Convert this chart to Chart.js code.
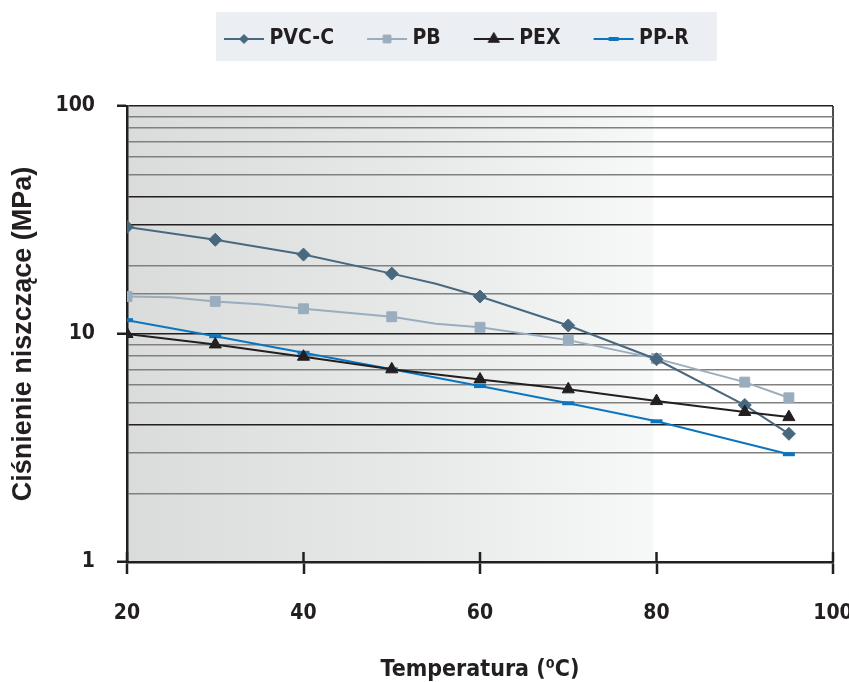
<!DOCTYPE html>
<html>
<head>
<meta charset="utf-8">
<script src="https://cdn.jsdelivr.net/npm/chart.js@4.4.1/dist/chart.umd.min.js"></script>
<style>
  html, body { margin: 0; padding: 0; background: #fff; }
  #wykres { display: block; }
</style>
</head>
<body>
<canvas id="wykres" width="849" height="682"></canvas>
<script>
// dane (cisnienie niszczace w MPa)
const serie = ['PVC-C', 'PB', 'PEX', 'PP-R'];

const tempPVC = [20, 30, 40, 50, 55, 60, 70, 80, 90, 95];
const cisnPVC = [29.5, 25.9, 22.3, 18.4, 16.6, 14.6, 10.9, 7.75, 4.88, 3.65];

const tempPB = [20, 25, 30, 35, 40, 50, 55, 60, 70, 80, 90, 95];
const cisnPB = [14.6, 14.5, 13.9, 13.5, 12.9, 11.9, 11.1, 10.7, 9.4, 7.8, 6.15, 5.25];

const tempPEX = [20, 30, 40, 50, 60, 70, 80, 90, 95];
const cisnPEX = [10.0, 9.0, 7.95, 7.0, 6.32, 5.72, 5.08, 4.55, 4.32];

const tempPPR = [20, 30, 40, 50, 60, 70, 80, 95];
const cisnPPR = [11.5, 9.78, 8.27, 7.0, 5.91, 4.97, 4.14, 2.97];

// temperatury, przy ktorych rysowane sa znaczniki
const znaczniki = [20, 30, 40, 50, 60, 70, 80, 90, 95];
const etykietyX = [20, 40, 60, 80, 100];
const etykietyY = [1, 10, 100];
const ciemneLinie = [100, 40, 30, 10, 4];

const kolory = ['#48687f', '#9aadbe', '#231f20', '#0b76bf'];
const ksztalty = ['rectRot', 'rect', 'triangle', 'line'];
const promienie = [6.5, 7, 7, 6];
const kolejnosc = [2, 3, 0, 1];

const waski = "'Liberation Sans Narrow', 'DejaVu Sans Condensed', sans-serif";
const czarny = '#231f20';

// legenda: rozmiar czcionki i odstep, gora obszaru wykresu na 106 px
const fontLegendy = 21;
const odstepLegendy = 24;
const gornyMargines = 106 - (fontLegendy + odstepLegendy + 10);

function punkty(t, v) {
    return t.map((x, i) => ({ x: x, y: v[i] }));
}

function seria(i, t, v) {
    return {
        label: serie[i],
        data: punkty(t, v),
        borderColor: kolory[i],
        backgroundColor: kolory[i],
        borderWidth: 2,
        pointStyle: ksztalty[i],
        pointRadius: t.map(x => znaczniki.includes(x) ? promienie[i] : 0),
        pointBorderWidth: i === 3 ? 4 : 1,
        pointBorderColor: kolory[i],
        pointBackgroundColor: kolory[i],
        tension: 0,
        order: kolejnosc[i]
    };
}

// probka do legendy: linia ze znacznikiem
function probka(i) {
    const c = document.createElement('canvas');
    c.width = 80;
    c.height = 24;
    const g = c.getContext('2d');
    g.strokeStyle = kolory[i];
    g.fillStyle = kolory[i];
    g.lineWidth = 2;
    g.beginPath();
    g.moveTo(27, 12);
    g.lineTo(67, 12);
    g.stroke();
    g.lineWidth = i === 3 ? 4 : 1;
    Chart.helpers.drawPoint(g, { pointStyle: ksztalty[i], radius: [4.5, 5.5, 6.5, 5][i], borderWidth: g.lineWidth }, 47, 12);
    return c;
}
const probki = serie.map((s, i) => probka(i));

const dodatki = {
    id: 'dodatki',
    afterLayout(chart) {
        // legenda wyzej i w prawo
        const lg = chart.legend;
        const dy = gornyMargines - 4.5;
        lg.top -= dy; lg.bottom -= dy;
        lg.left += 191; lg.right += 191;
    },
    beforeDraw(chart) {
        const { ctx, chartArea: a, legend } = chart;
        ctx.save();
        const gr = ctx.createLinearGradient(a.left, 0, a.right, 0);
        gr.addColorStop(0, '#d9dcdb');
        gr.addColorStop(0.4, '#e7e9e9');
        gr.addColorStop(0.745, '#f7f8f8');
        gr.addColorStop(0.747, '#ffffff');
        gr.addColorStop(1, '#ffffff');
        ctx.fillStyle = gr;
        ctx.fillRect(a.left, a.top, a.right - a.left, a.bottom - a.top);

        const hb = legend.legendHitBoxes;
        const p = hb[0], k = hb[hb.length - 1];
        ctx.fillStyle = '#ebeef3';
        ctx.fillRect(p.left + 1, p.top + p.height / 2 - 27, k.left + k.width + 28 - p.left - 1, 49);
        ctx.restore();
    },
    afterDraw(chart) {
        // kreski podzialki osi X skierowane w gore
        const { ctx, chartArea: a } = chart;
        const sx = chart.scales.x;
        ctx.save();
        ctx.strokeStyle = czarny;
        ctx.lineWidth = 2.5;
        etykietyX.forEach(v => {
            const px = sx.getPixelForValue(v);
            ctx.beginPath();
            ctx.moveTo(px, a.bottom);
            ctx.lineTo(px, a.bottom - 10);
            ctx.stroke();
        });
        ctx.restore();
    }
};

new Chart(document.querySelector('#wykres'), {
    type: 'line',
    data: {
        datasets: [
            seria(0, tempPVC, cisnPVC),
            seria(1, tempPB, cisnPB),
            seria(2, tempPEX, cisnPEX),
            seria(3, tempPPR, cisnPPR)
        ]
    },
    options: {
        responsive: false,
        animation: false,
        layout: { padding: { top: gornyMargines, right: 16, bottom: 0, left: 0 } },
        plugins: {
            tooltip: { enabled: false },
            legend: {
                position: 'top',
                align: 'start',
                labels: {
                    usePointStyle: true,
                    pointStyleWidth: 44,
                    padding: odstepLegendy,
                    color: czarny,
                    font: { family: waski, size: fontLegendy, weight: 'bold' },
                    generateLabels: chart => chart.data.datasets.map((ds, i) => ({
                        text: ds.label,
                        pointStyle: probki[i],
                        fillStyle: kolory[i],
                        strokeStyle: kolory[i],
                        lineWidth: 0,
                        hidden: false,
                        datasetIndex: i,
                        fontColor: czarny
                    }))
                }
            }
        },
        scales: {
            x: {
                type: 'linear',
                min: 20,
                max: 100,
                afterBuildTicks: s => { s.ticks = etykietyX.map(v => ({ value: v })); },
                afterFit: s => { s.height = 120; s.paddingRight = 0; s.paddingLeft = 0; },
                border: { color: czarny, width: 2.5 },
                grid: {
                    color: c => c.tick && c.tick.value === 100 ? '#4d4d4d' : 'rgba(0,0,0,0)',
                    lineWidth: 2,
                    tickLength: 12,
                    tickColor: czarny,
                    tickWidth: 2.5
                },
                ticks: {
                    color: czarny,
                    padding: 27,
                    font: { family: waski, size: 21, weight: 'bold' }
                },
                title: {
                    display: true,
                    text: 'Temperatura (⁰C)',
                    color: czarny,
                    padding: { top: 0, bottom: 0 },
                    font: { family: waski, size: 23, weight: 'bold', lineHeight: 1 }
                }
            },
            y: {
                type: 'logarithmic',
                min: 1,
                max: 100,
                afterFit: s => { s.width = 127; },
                border: { color: czarny, width: 2.5 },
                grid: {
                    color: c => ciemneLinie.includes(c.tick && c.tick.value) ? czarny : '#808080',
                    lineWidth: 1.5,
                    tickLength: 10,
                    tickColor: c => etykietyY.includes(c.tick && c.tick.value) ? czarny : 'rgba(0,0,0,0)',
                    tickWidth: 2.5
                },
                ticks: {
                    autoSkip: false,
                    color: czarny,
                    padding: 22,
                    font: { family: waski, size: 21, weight: 'bold' },
                    callback: v => etykietyY.includes(v) ? String(v) : ''
                },
                title: {
                    display: true,
                    text: 'Ciśnienie niszczące (MPa)',
                    color: czarny,
                    padding: { top: 10, bottom: 0 },
                    font: { family: "'Liberation Sans', Arial, sans-serif", size: 27, weight: 'bold', lineHeight: 1 }
                }
            }
        }
    },
    plugins: [dodatki]
});
</script>
</body>
</html>
